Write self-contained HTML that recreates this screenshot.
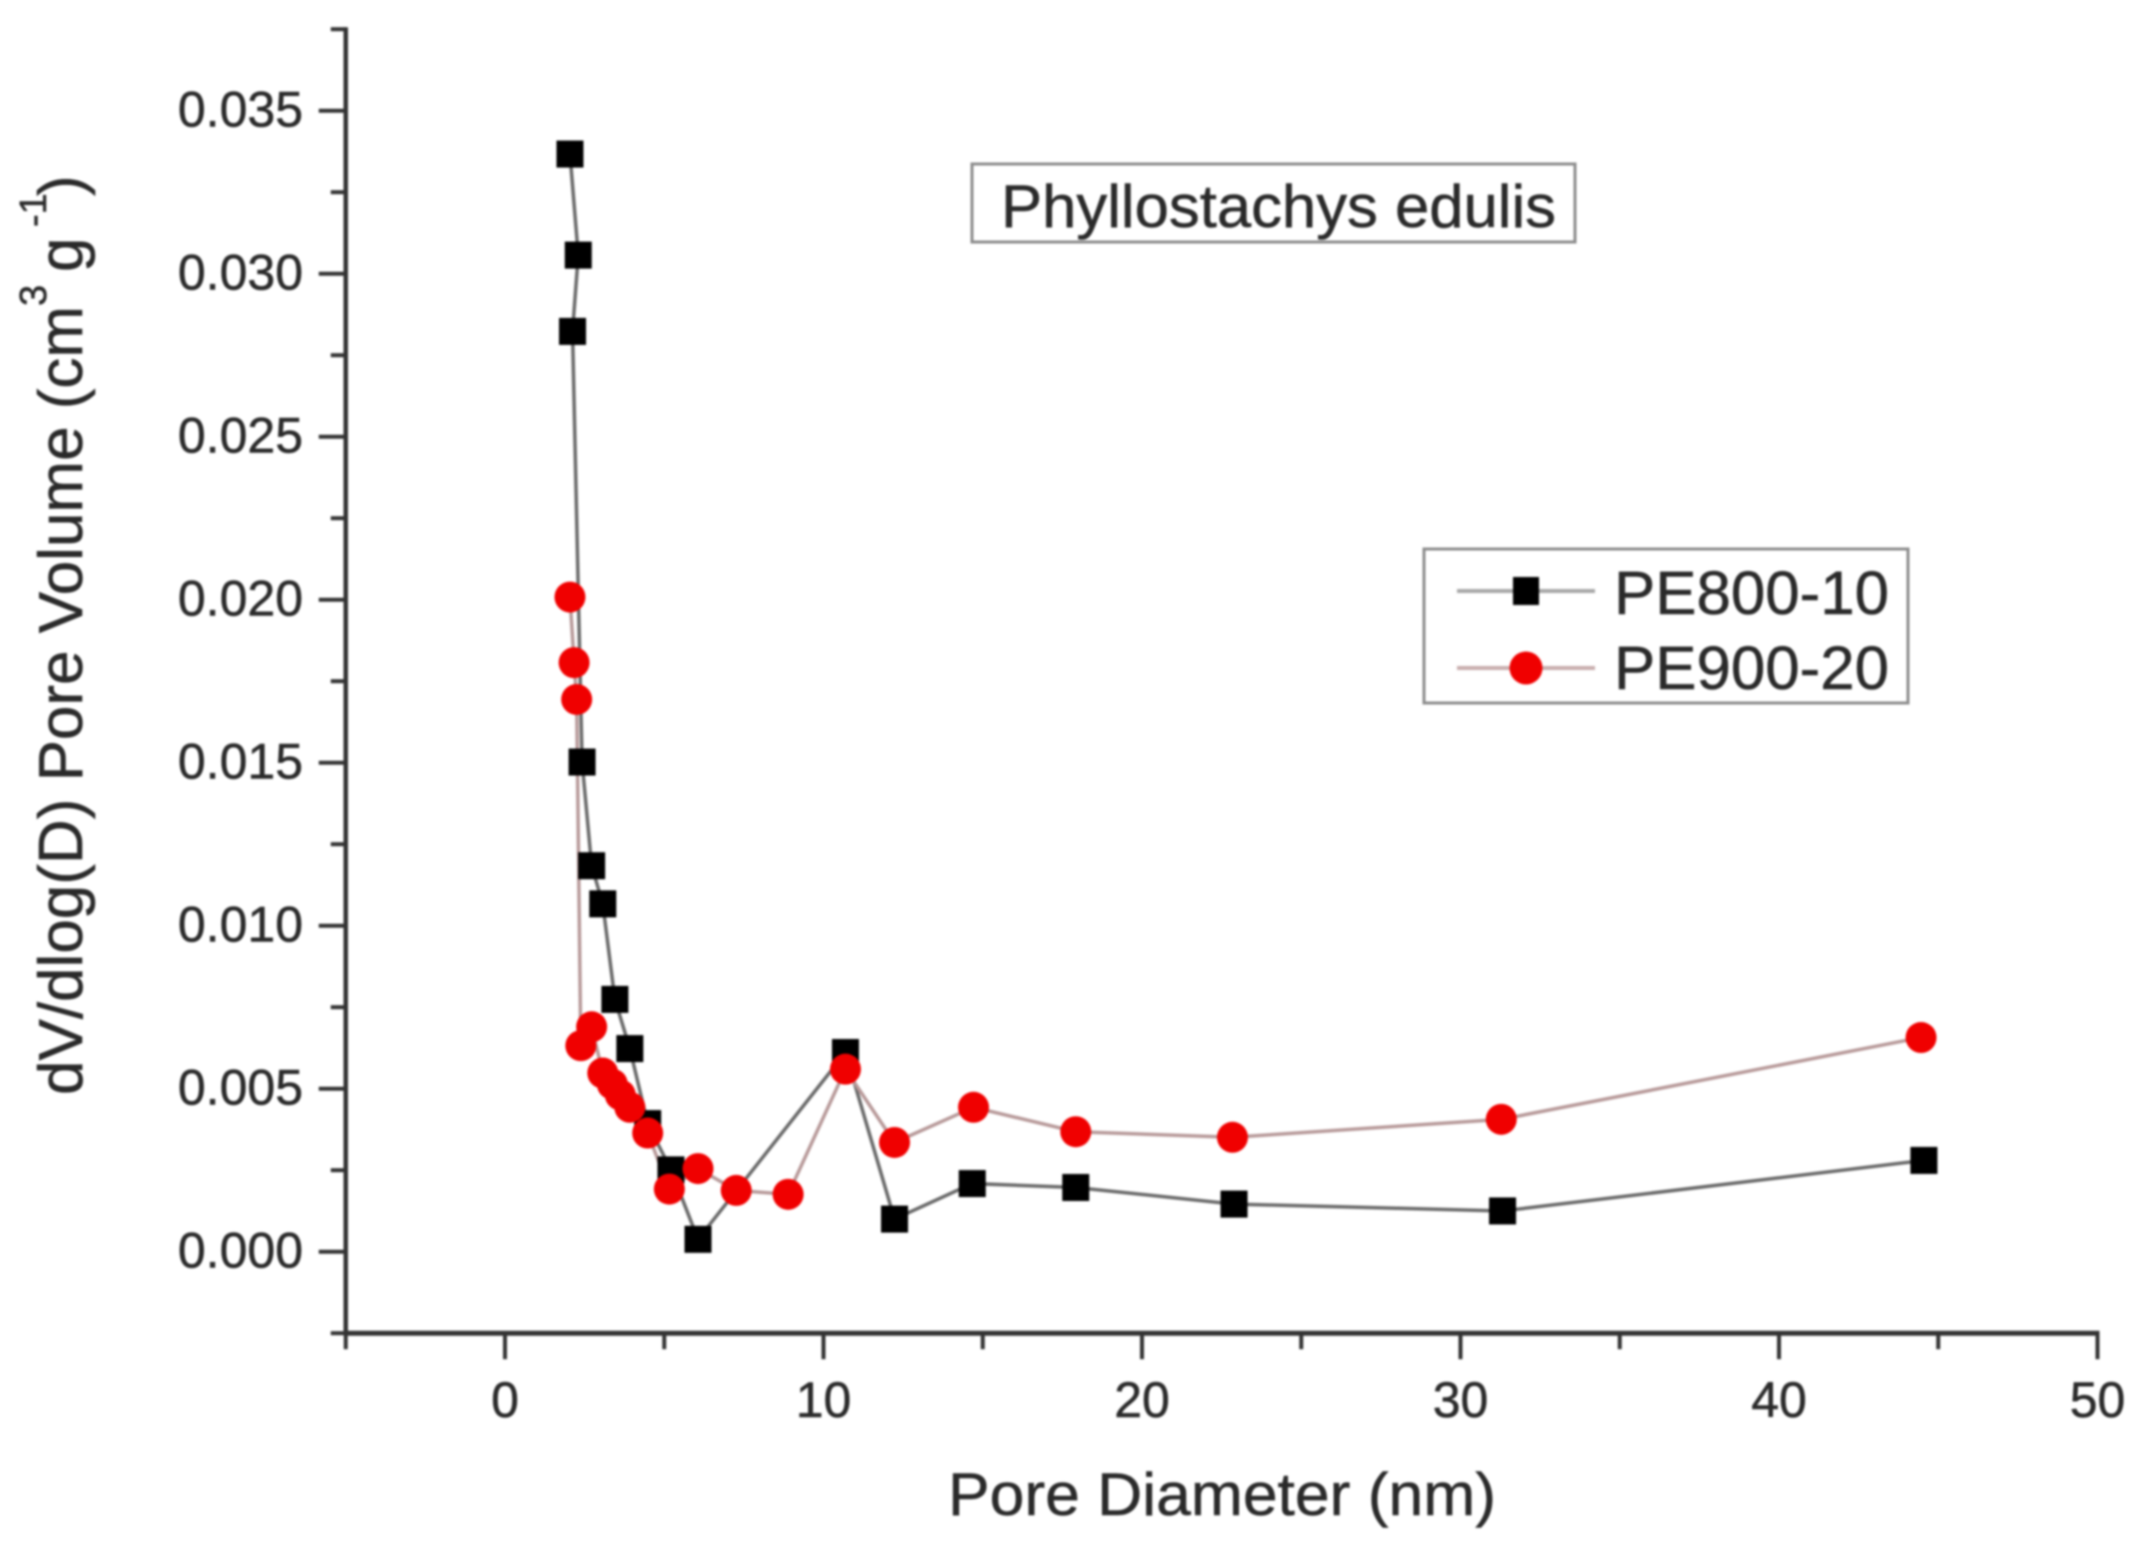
<!DOCTYPE html>
<html>
<head>
<meta charset="utf-8">
<title>Phyllostachys edulis pore size distribution</title>
<style>
  html, body { margin: 0; padding: 0; background: #fff; }
  #chart { display: block; width: 2138px; height: 1554px; filter: blur(1.1px); font-family: "Liberation Sans", sans-serif; }
  text { fill: #2a2a2a; stroke: #2a2a2a; stroke-width: 0.5px; font-family: "Liberation Sans", sans-serif; }
</style>
</head>
<body>
<svg id="chart" xmlns="http://www.w3.org/2000/svg" width="2138" height="1554" viewBox="0 0 2138 1554">
  <rect x="0" y="0" width="2138" height="1554" fill="#ffffff"/>
  <g id="axes"></g>
  <g id="series"></g>

  <text x="948" y="1515" font-size="60" textLength="548" lengthAdjust="spacingAndGlyphs">Pore Diameter (nm)</text>
  <text transform="rotate(-90)" x="-1095" y="82" font-size="62">dV/dlog(D) Pore Volume (cm<tspan x="-306" y="46" font-size="38">3</tspan><tspan x="-272" y="82">g</tspan><tspan x="-227" y="46" font-size="38">-1</tspan><tspan x="-196" y="82">)</tspan></text>

  <g>
    <rect x="972" y="164" width="603" height="78" fill="#fff" stroke="#8c8c8c" stroke-width="3"/>
    <text x="1001" y="227" font-size="60" textLength="555" lengthAdjust="spacingAndGlyphs">Phyllostachys edulis</text>
  </g>

  <g>
    <rect x="1424" y="549" width="484" height="154" fill="#fff" stroke="#8c8c8c" stroke-width="3"/>
    <g>
      <line x1="1457" y1="591" x2="1595" y2="591" stroke="#a8a8a8" stroke-width="4"/>
      <rect x="1513" y="577" width="26" height="28" fill="#000"/>
      <text x="1614" y="614" font-size="61" textLength="275" lengthAdjust="spacingAndGlyphs">PE800-10</text>
    </g>
    <g>
      <line x1="1457" y1="668" x2="1595" y2="668" stroke="#c9aeae" stroke-width="4"/>
      <circle cx="1526" cy="668" r="16.5" fill="#f00000"/>
      <text x="1614" y="689" font-size="61" textLength="275" lengthAdjust="spacingAndGlyphs">PE900-20</text>
    </g>
  </g>
</svg>
<script>
const xMajorTicks = [0, 10, 20, 30, 40, 50];
const xMinorTicks = [-5, 5, 15, 25, 35, 45];
const xTickLabels = ["0", "10", "20", "30", "40", "50"];
const yMajorTicks = [0, 0.005, 0.01, 0.015, 0.02, 0.025, 0.03, 0.035];
const yMinorTicks = [-0.0025, 0.0025, 0.0075, 0.0125, 0.0175, 0.0225, 0.0275, 0.0325, 0.0375];
const yTickLabels = ["0.000", "0.005", "0.010", "0.015", "0.020", "0.025", "0.030", "0.035"];

const pe800Diameter = [2.04, 2.30, 2.12, 2.42, 2.72, 3.07, 3.45, 3.92, 4.48, 5.21, 6.06, 10.69, 12.23, 14.67, 17.92, 22.89, 31.32, 44.55];
const pe800Volume = [0.03367, 0.03057, 0.02823, 0.01502, 0.01184, 0.01067, 0.00774, 0.00623, 0.00393, 0.00251, 0.00038, 0.00611, 0.00100, 0.00209, 0.00197, 0.00146, 0.00125, 0.00280];
const pe900Diameter = [2.04, 2.17, 2.25, 2.38, 2.72, 3.07, 3.37, 3.62, 3.92, 4.48, 5.16, 6.06, 7.26, 8.89, 10.69, 12.23, 14.71, 17.92, 22.84, 31.28, 44.46];
const pe900Volume = [0.02008, 0.01807, 0.01694, 0.00632, 0.00690, 0.00548, 0.00514, 0.00481, 0.00443, 0.00364, 0.00192, 0.00255, 0.00188, 0.00176, 0.00560, 0.00335, 0.00443, 0.00368, 0.00351, 0.00406, 0.00657];

const SVG_NS = "http://www.w3.org/2000/svg";
const xScale = function (v) { return 505 + v * 31.85; };
const yScale = function (v) { return 1251.7 - v * 32600; };
const xMin = -5, xMax = 50, yMin = -0.0025, yMax = 0.0375;
const axesLayer = document.getElementById("axes");
const seriesLayer = document.getElementById("series");

function svgEl(tag, attrs, parent) {
  const el = document.createElementNS(SVG_NS, tag);
  Object.keys(attrs).forEach(function (k) { el.setAttribute(k, attrs[k]); });
  parent.appendChild(el);
  return el;
}

const yAxisLine = svgEl("line", { x1: xScale(xMin), y1: yScale(yMin) + 2, x2: xScale(xMin), y2: yScale(yMax) - 2, stroke: "#333", "stroke-width": 4.5 }, axesLayer);



const xAxisLine = svgEl("line", { x1: xScale(xMin) - 2, y1: yScale(yMin), x2: xScale(xMax) + 2, y2: yScale(yMin), stroke: "#333", "stroke-width": 5 }, axesLayer);



yMajorTicks.forEach(function (v, i) {
  const tick = svgEl("line", { x1: xScale(xMin) - 27, y1: yScale(v), x2: xScale(xMin), y2: yScale(v), stroke: "#333", "stroke-width": 4 }, axesLayer);
  
  
  const label = svgEl("text", { x: 303, y: yScale(v) + 16, "font-size": 50, "text-anchor": "end" }, axesLayer);
  label.textContent = yTickLabels[i];
  
  
});

yMinorTicks.forEach(function (v) {
  const tick = svgEl("line", { x1: xScale(xMin) - 15, y1: yScale(v), x2: xScale(xMin), y2: yScale(v), stroke: "#333", "stroke-width": 4 }, axesLayer);
  
  
});

xMajorTicks.forEach(function (v, i) {
  const tick = svgEl("line", { x1: xScale(v), y1: yScale(yMin), x2: xScale(v), y2: yScale(yMin) + 26, stroke: "#333", "stroke-width": 4 }, axesLayer);
  
  
  const label = svgEl("text", { x: xScale(v), y: 1417, "font-size": 50, "text-anchor": "middle" }, axesLayer);
  label.textContent = xTickLabels[i];
  
  
});

xMinorTicks.forEach(function (v) {
  const tick = svgEl("line", { x1: xScale(v), y1: yScale(yMin), x2: xScale(v), y2: yScale(yMin) + 16, stroke: "#333", "stroke-width": 4 }, axesLayer);
  
  
});

function linePoints(xs, ys) {
  return xs.map(function (x, i) { return xScale(x) + "," + yScale(ys[i]); }).join(" ");
}

const pe800Line = svgEl("polyline", { points: linePoints(pe800Diameter, pe800Volume), fill: "none", stroke: "#6a6a6a", "stroke-width": 3.5 }, seriesLayer);



const pe900Line = svgEl("polyline", { points: linePoints(pe900Diameter, pe900Volume), fill: "none", stroke: "#b89a9a", "stroke-width": 3.5 }, seriesLayer);



pe800Diameter.forEach(function (x, i) {
  const size = 27;
  const marker = svgEl("rect", { x: xScale(x) - size / 2, y: yScale(pe800Volume[i]) - size / 2, width: size, height: size, fill: "#000" }, seriesLayer);
  
  
});

pe900Diameter.forEach(function (x, i) {
  const marker = svgEl("circle", { cx: xScale(x), cy: yScale(pe900Volume[i]), r: 15.5, fill: "#f00000" }, seriesLayer);
  
  
});
</script>
</body>
</html>
